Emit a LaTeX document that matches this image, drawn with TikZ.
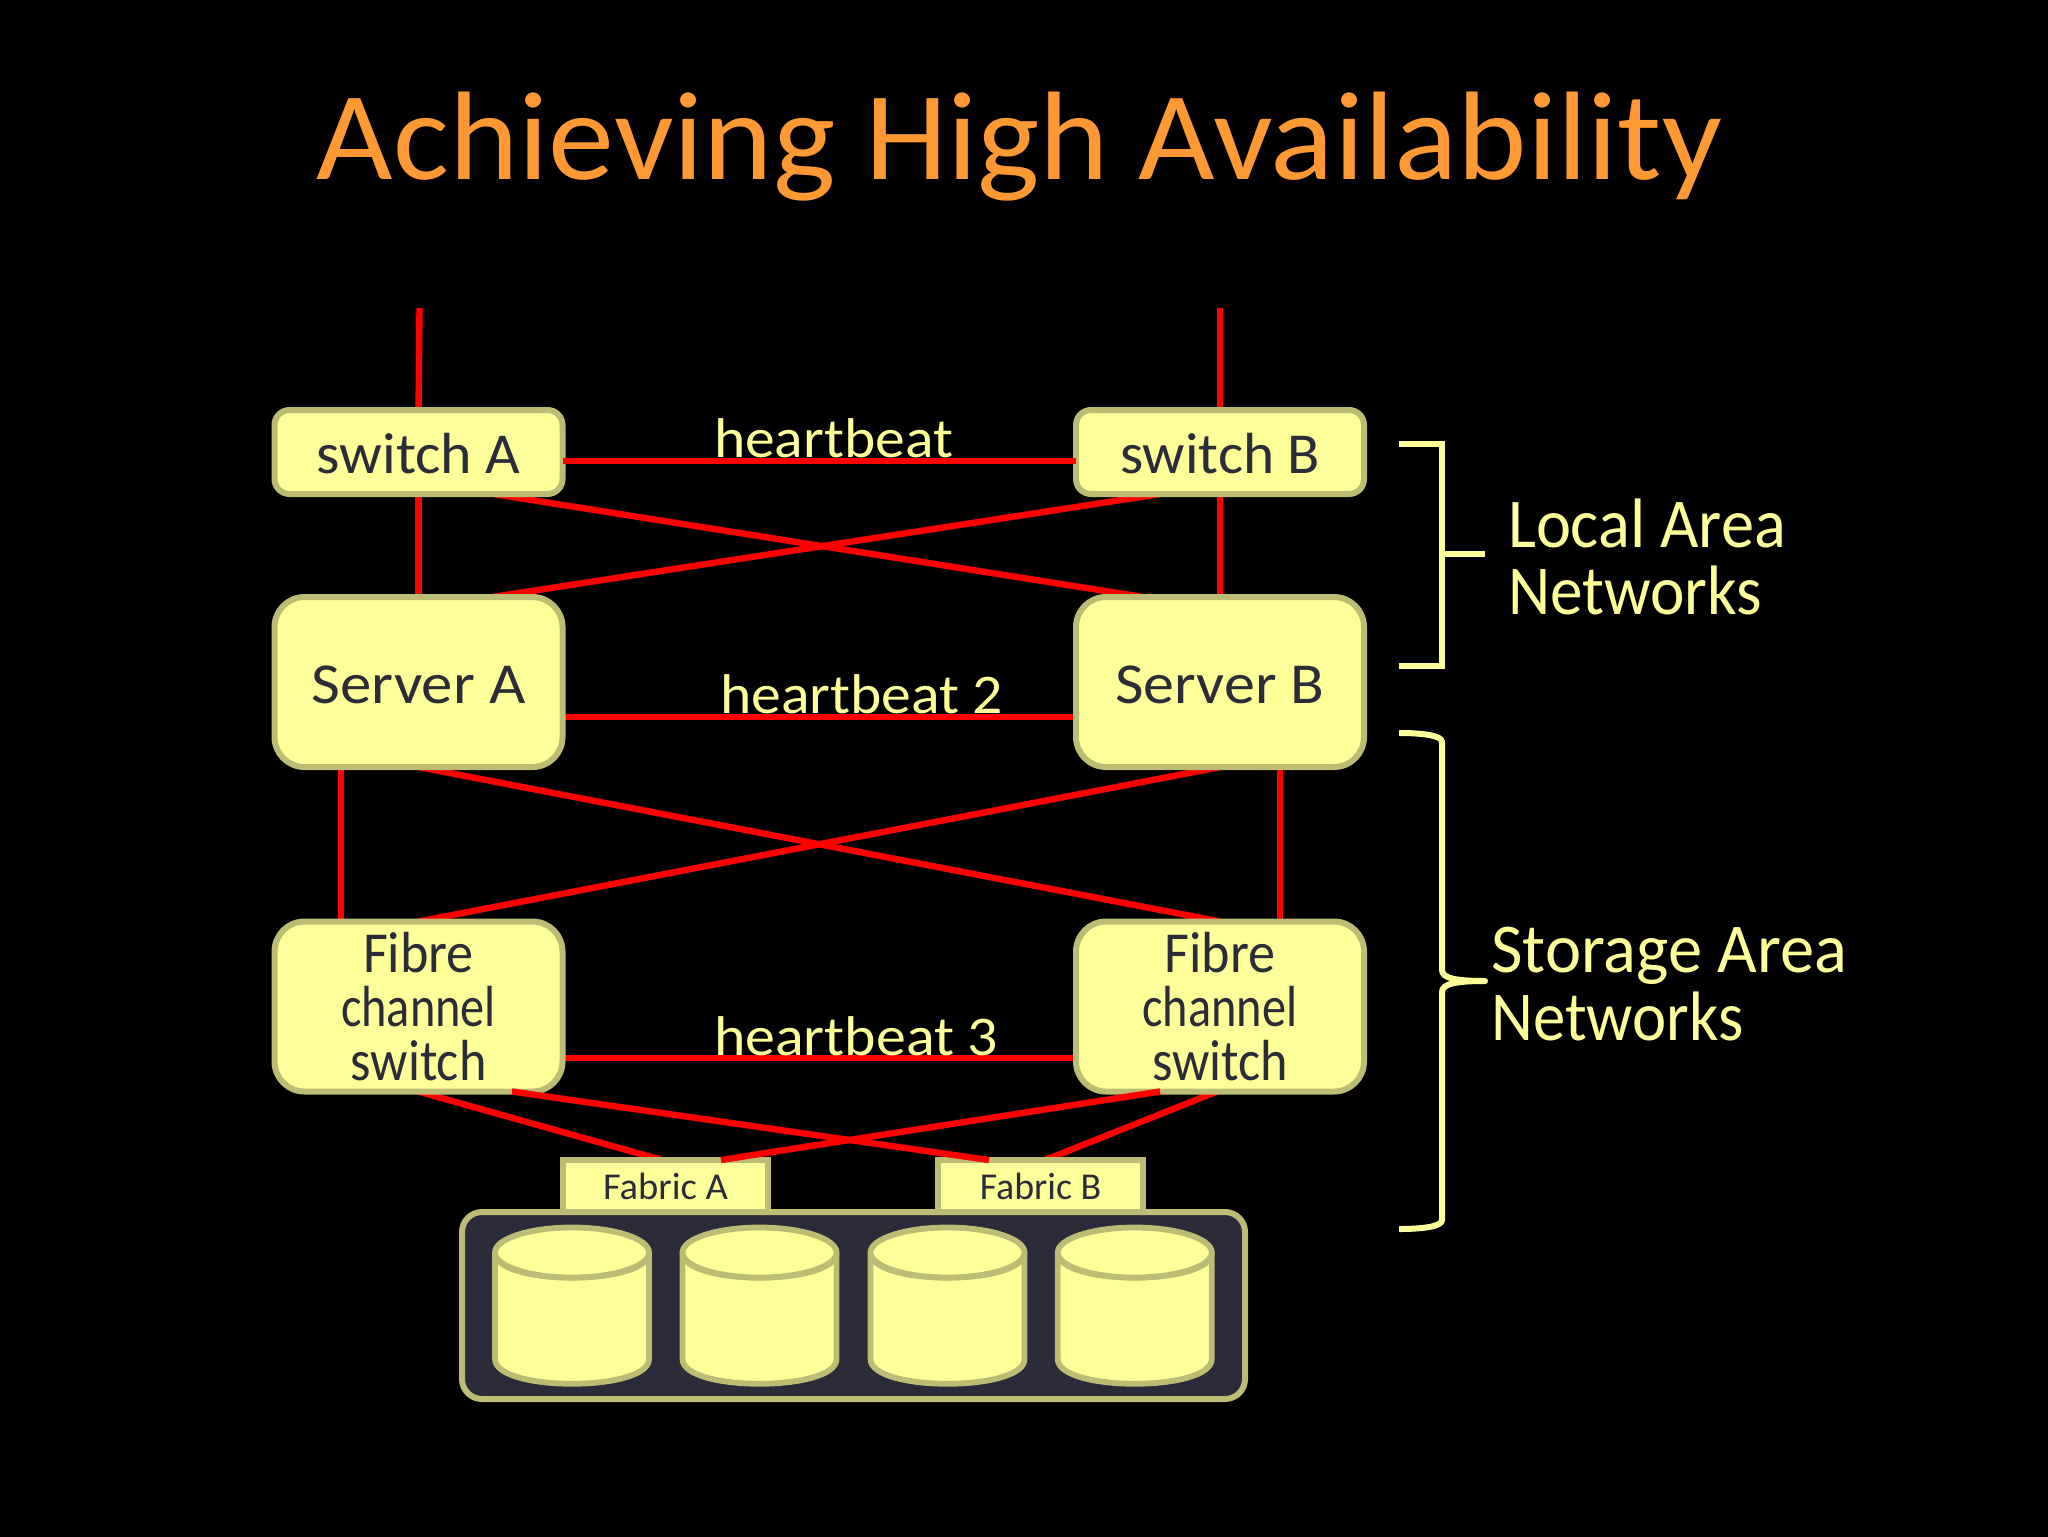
\documentclass[tikz,border=0pt]{standalone}
\usepackage{fontspec}
\usepackage{graphicx}
\setmainfont{Carlito}
\definecolor{paleY}{HTML}{FFFF99}
\definecolor{oliveS}{HTML}{BCBC74}
\definecolor{darkT}{HTML}{2B2B3A}
\definecolor{titleO}{HTML}{FF9933}
\definecolor{linkR}{HTML}{FF0000}
\newcommand{\tw}[2]{\resizebox{#1pt}{\height}{#2}}
\newcommand{\fsz}[1]{\fontsize{#1}{27}\selectfont}
\pgfdeclarelayer{bgl}
\pgfdeclarelayer{edgel}
\pgfsetlayers{bgl,edgel,main}
\tikzset{
  basebox/.style={draw=oliveS,fill=paleY,line width=3pt,outer sep=0pt,inner sep=0pt,text=darkT,align=center},
  swbox/.style={basebox,minimum width=144pt,minimum height=42pt,rounded corners=7.5pt,font=\fsz{29},text height=21pt,text depth=0pt},
  srvbox/.style={basebox,minimum width=144pt,minimum height=85pt,rounded corners=15pt,font=\fsz{29},text height=21pt,text depth=0pt},
  fcbox/.style={basebox,minimum width=144pt,minimum height=85pt,rounded corners=15pt,font=\fsz{29}},
  fabbox/.style={basebox,sharp corners,minimum width=102.5pt,minimum height=30pt,font=\fsz{19},text height=9pt,text depth=0pt},
  storebox/.style={basebox,fill=darkT,minimum width=391.5pt,minimum height=93.5pt,rounded corners=10pt},
  link/.style={draw=linkR,line width=3.2pt},
  hb/.style={text=paleY,font=\fsz{28},anchor=base,inner sep=0pt},
  netlabel/.style={text=paleY,font=\fsz{35},anchor=base west,inner sep=0pt},
  brk/.style={draw=paleY,line width=3pt},
  cyl/.style={draw=oliveS,fill=paleY,line width=2.9pt}
}
\begin{document}
\begin{tikzpicture}[x=0.5pt,y=-0.5pt]
\useasboundingbox (0,0) rectangle (2048,1536);
\begin{pgfonlayer}{bgl}
\fill[black] (-20,-20) rectangle (2068,1556);
\end{pgfonlayer}

\node[text=titleO,font=\fsz{63},anchor=base,inner sep=0pt] (title) at (1019.5,179) {\tw{702.5}{Achieving High Availability}};

\coordinate (topA) at (419.5,308);
\coordinate (topB) at (1220,308);
\node[swbox] (swA) at (418.5,452) {\tw{102}{switch A}};
\node[swbox] (swB) at (1220,452) {\tw{100}{switch B}};
\node[srvbox] (srvA) at (418.5,682) {\tw{107}{Server A}};
\node[srvbox] (srvB) at (1220,682) {\tw{104.5}{Server B}};
\node[fcbox] (fcA) at (418.5,1006.5) {\tw{55.5}{Fibre}\\\tw{77.5}{channel}\\\tw{68}{switch}};
\node[fcbox] (fcB) at (1220,1006.5) {\tw{55.5}{Fibre}\\\tw{77.5}{channel}\\\tw{68}{switch}};
\node[fabbox] (fabA) at (665.5,1190) {\tw{62.5}{Fabric A}};
\node[fabbox] (fabB) at (1040.5,1190) {\tw{60.75}{Fabric B}};
\node[storebox] (store) at (853.5,1305.5) {};

\foreach \cx in {572,759.5,947.5,1134.75}{
  \path[cyl] (\cx-77,1252.5) -- (\cx-77,1359)
    .. controls (\cx-77,1392) and (\cx+77,1392) .. (\cx+77,1359)
    -- (\cx+77,1252.5)
    .. controls (\cx+77,1286) and (\cx-77,1286) .. (\cx-77,1252.5) -- cycle;
  \path[cyl] (\cx,1252.5) ellipse (77 and 25);
}

\begin{pgfonlayer}{edgel}
\draw[link] (topA) -- (swA.north);
\draw[link] (topB) -- (swB.north);
\draw[link] (swA.south) -- (srvA.north);
\draw[link] (swB.south) -- (srvB.north);
\draw[link] ([xshift=37.5pt]swA.south) -- ([xshift=-38.5pt]srvB.north);
\draw[link] ([xshift=-30pt]swB.south) -- ([xshift=37pt]srvA.north);
\draw[link] ([yshift=-17.5pt]srvA.east) -- ([yshift=-17.5pt]srvB.west);
\draw[link] ([xshift=-38.75pt]srvA.south) -- ([xshift=-38.75pt]fcA.north);
\draw[link] ([xshift=30pt]srvB.south) -- ([xshift=30pt]fcB.north);
\draw[link] (srvA.south) -- (fcB.north);
\draw[link] (srvB.south) -- (fcA.north);
\draw[link] ([yshift=-25.75pt]fcA.east) -- ([yshift=-25.75pt]fcB.west);
\draw[link] (fcA.south) -- ([xshift=-1.75pt]fabA.north);
\draw[link] ([xshift=-1.5pt]fcB.south) -- ([xshift=2.25pt]fabB.north);
\end{pgfonlayer}
\draw[link] ([yshift=-4.35pt]swA.east) -- ([yshift=-4.35pt]swB.west);
\draw[link] ([xshift=46.75pt]fcA.south) -- ([xshift=-25.75pt]fabB.north);
\draw[link] ([xshift=-30pt]fcB.south) -- ([xshift=27.75pt]fabA.north);

\node[hb] (hb1) at (833.5,457) {\tw{119.5}{heartbeat}};
\node[hb] (hb2) at (861.5,713) {\tw{141.5}{heartbeat 2}};
\node[hb] (hb3) at (856,1055) {\tw{142}{heartbeat 3}};

\coordinate (lanTop) at (1399,444);
\coordinate (lanBot) at (1399,666);
\coordinate (lanTip) at (1485,554);
\draw[brk] (lanTop) -- (1442,444) -- (1442,666) -- (lanBot);
\draw[brk] (1442,554) -- (lanTip);
\coordinate (sanTop) at (1399,733);
\coordinate (sanBot) at (1399,1229);
\coordinate (sanTip) at (1485,981);
\draw[brk,line join=round] (sanTop) .. controls (1420,733) and (1442,735) .. (1442,742)
  -- (1442,970) .. controls (1442,978) and (1455,981) .. (sanTip)
  .. controls (1455,981) and (1442,984) .. (1442,992)
  -- (1442,1220) .. controls (1442,1227) and (1420,1229) .. (sanBot);

\node[netlabel] (lan1) at (1507.7,547) {\tw{139}{Local Area}};
\node[netlabel] (lan2) at (1507.7,614) {\tw{127}{Networks}};
\node[netlabel] (san1) at (1491,972) {\tw{178}{Storage Area}};
\node[netlabel] (san2) at (1491,1040) {\tw{126}{Networks}};
\end{tikzpicture}
\end{document}
